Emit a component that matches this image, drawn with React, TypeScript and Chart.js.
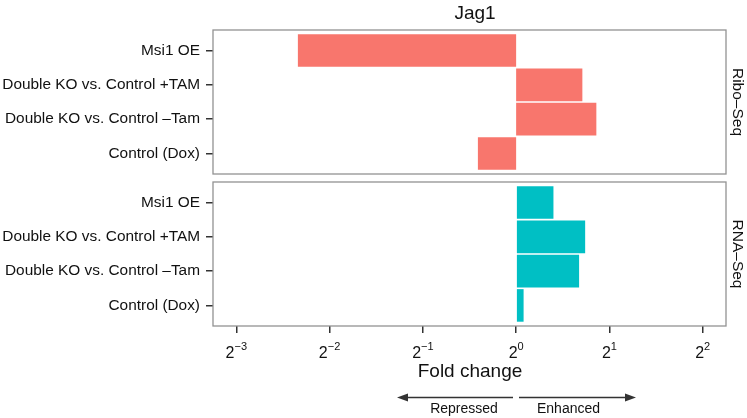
import React, { useEffect, useRef } from 'react';
import { Chart, registerables } from 'chart.js';

Chart.register(...registerables);

// ---- data ----
const categories = ['Msi1 OE', 'Double KO vs. Control +TAM', 'Double KO vs. Control –Tam', 'Control (Dox)'];
// log2 fold change values
const riboSeqLog2 = [-2.34, 0.71, 0.86, -0.41];
const rnaSeqLog2 = [0.4, 0.74, 0.675, 0.08];
const xTickExponents = [-3, -2, -1, 0, 1, 2];
const panelLabels = ['Ribo–Seq', 'RNA–Seq'];
const titleText = 'Jag1';
const xTitle = 'Fold change';
const directionLabels = ['Repressed', 'Enhanced'];

const FONT = '"Liberation Sans", Arial, Helvetica, sans-serif';
const W = 747;
const H = 418;
const PANEL_LEFT = 213;
const PANEL_RIGHT = 726;
const TEXT = '#111111';
const DARK = '#333333';

function drawArrow(ctx: CanvasRenderingContext2D, x1: number, x2: number, y: number) {
  const dir = Math.sign(x2 - x1);
  ctx.beginPath();
  ctx.moveTo(x1, y);
  ctx.lineTo(x2 - dir * 6, y);
  ctx.stroke();
  ctx.beginPath();
  ctx.moveTo(x2, y);
  ctx.lineTo(x2 - dir * 11, y - 4);
  ctx.lineTo(x2 - dir * 11, y + 4);
  ctx.closePath();
  ctx.fill();
}

const panelPlugin = {
  id: 'panelDecor',
  afterDraw(chart: any, _args: any, opts: any) {
    const { ctx, chartArea: a } = chart;
    ctx.save();
    ctx.strokeStyle = '#929292';
    ctx.lineWidth = 1.3;
    ctx.strokeRect(a.left, a.top, a.right - a.left, a.bottom - a.top);

    // strip label
    ctx.save();
    ctx.translate(737, (a.top + a.bottom) / 2);
    ctx.rotate(Math.PI / 2);
    ctx.font = `15.5px ${FONT}`;
    ctx.fillStyle = TEXT;
    ctx.textAlign = 'center';
    ctx.textBaseline = 'middle';
    ctx.fillText(opts.strip, 0, 0);
    ctx.restore();

    if (opts.top) {
      ctx.font = `19px ${FONT}`;
      ctx.fillStyle = TEXT;
      ctx.textAlign = 'center';
      ctx.textBaseline = 'alphabetic';
      ctx.fillText(titleText, 475, 19);
    }

    if (opts.bottom) {
      const xs = chart.scales.x;
      ctx.fillStyle = TEXT;
      ctx.textBaseline = 'alphabetic';
      ctx.textAlign = 'left';
      for (const e of xTickExponents) {
        const px = xs.getPixelForValue(e);
        const base = '2';
        const exp = e < 0 ? '−' + Math.abs(e) : String(e);
        ctx.font = `16px ${FONT}`;
        const wb = ctx.measureText(base).width;
        ctx.font = `11px ${FONT}`;
        const we = ctx.measureText(exp).width;
        const start = px - (wb + we) / 2;
        ctx.font = `16px ${FONT}`;
        ctx.fillText(base, start, 357.5);
        ctx.font = `11px ${FONT}`;
        ctx.fillText(exp, start + wb, 350);
      }
      ctx.font = `19px ${FONT}`;
      ctx.textAlign = 'center';
      ctx.fillText(xTitle, 470, 377);

      ctx.strokeStyle = DARK;
      ctx.fillStyle = DARK;
      ctx.lineWidth = 1.5;
      drawArrow(ctx, 513, 397, 397.5);
      drawArrow(ctx, 519, 636, 397.5);

      ctx.fillStyle = TEXT;
      ctx.font = `14px ${FONT}`;
      ctx.textAlign = 'center';
      ctx.fillText(directionLabels[0], 464, 413);
      ctx.fillText(directionLabels[1], 568.5, 413);
    }
    ctx.restore();
  },
};

function makeChart(
  canvas: HTMLCanvasElement,
  values: number[],
  color: string,
  strip: string,
  areaTop: number,
  areaBottom: number,
  isTop: boolean,
  isBottom: boolean
) {
  const data = values.map((v, i) => ({ x: v, y: i }));
  return new Chart(canvas, {
    type: 'bar',
    data: {
      datasets: [
        {
          data,
          backgroundColor: color,
          borderWidth: 0,
          barPercentage: 0.95,
          categoryPercentage: 1,
        } as any,
      ],
    },
    options: {
      indexAxis: 'y',
      animation: false,
      responsive: false,
      maintainAspectRatio: false,
      events: [],
      layout: {
        padding: {
          top: areaTop,
          bottom: isBottom ? 0 : H - areaBottom,
          left: 0,
          right: W - PANEL_RIGHT,
        },
      },
      plugins: {
        legend: { display: false },
        tooltip: { enabled: false },
        title: { display: false },
        panelDecor: { strip, top: isTop, bottom: isBottom },
      } as any,
      scales: {
        x: {
          type: 'linear',
          min: -3.25,
          max: 2.25,
          display: isBottom,
          offset: false,
          afterFit: (s: any) => {
            if (isBottom) s.height = H - areaBottom;
          },
          grid: { offset: false, drawOnChartArea: false, drawTicks: true, tickLength: 7, color: DARK, lineWidth: 1.5 },
          border: { display: false },
          ticks: { display: false, stepSize: 1, includeBounds: false },
        },
        y: {
          type: 'linear',
          min: -0.6,
          max: 3.6,
          reverse: true,
          offset: false,
          afterFit: (s: any) => {
            s.width = PANEL_LEFT;
          },
          grid: { offset: false, drawOnChartArea: false, drawTicks: true, tickLength: 7, color: DARK, lineWidth: 1.5 },
          border: { display: false },
          ticks: {
            stepSize: 1,
            includeBounds: false,
            autoSkip: false,
            padding: 6,
            color: TEXT,
            font: { family: FONT, size: 15.4 },
            callback: (v: any) => categories[v] ?? '',
          },
        },
      },
    } as any,
    plugins: [panelPlugin],
  });
}

export default function App() {
  const topRef = useRef<HTMLCanvasElement>(null);
  const botRef = useRef<HTMLCanvasElement>(null);

  useEffect(() => {
    const c1 = makeChart(topRef.current!, riboSeqLog2, '#F8766D', panelLabels[0], 30, 174, true, false);
    const c2 = makeChart(botRef.current!, rnaSeqLog2, '#00BFC4', panelLabels[1], 182, 326, false, true);
    return () => {
      c1.destroy();
      c2.destroy();
    };
  }, []);

  const cs: React.CSSProperties = { position: 'absolute', left: 0, top: 0, display: 'block' };
  return (
    <div style={{ position: 'absolute', left: 0, top: 0, width: W, height: H, background: '#ffffff' }}>
      <canvas ref={topRef} width={W} height={H} style={cs} />
      <canvas ref={botRef} width={W} height={H} style={cs} />
    </div>
  );
}
